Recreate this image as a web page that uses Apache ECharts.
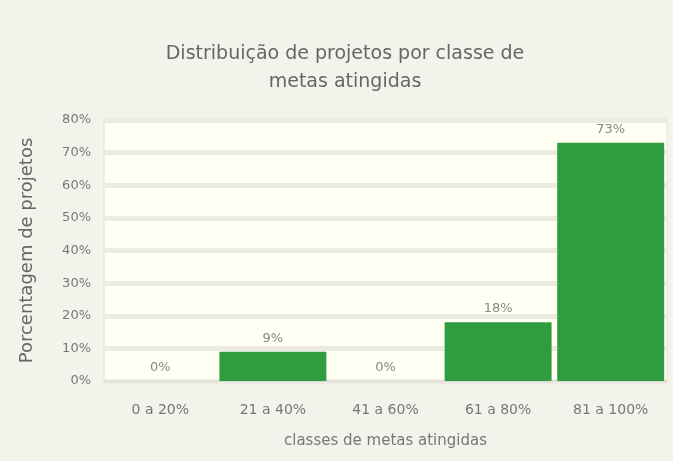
<!DOCTYPE html>
<html><head><meta charset="utf-8">
<script src="https://cdn.jsdelivr.net/npm/echarts@6/dist/echarts.min.js"></script>
<style>html,body{margin:0;padding:0;background:#f3f3ec}#c{width:673px;height:461px}</style>
</head><body><div id="c"></div>
<script>
const categories = ["0 a 20%", "21 a 40%", "41 a 60%", "61 a 80%", "81 a 100%"];
const values = [0, 9, 0, 18, 73];
const valueLabels = ["0%", "9%", "0%", "18%", "73%"];
const chart = echarts.init(document.getElementById('c'));
chart.setOption({
  backgroundColor: '#f3f3ec',
  title: {
    text: 'Distribuição de projetos por classe de\nmetas atingidas',
    left: 340, top: 35, textAlign: 'center',
    textStyle: {fontFamily: 'DejaVu Sans', fontSize: 19, fontWeight: 'normal', color: '#666', lineHeight: 28}
  },
  grid: {left: 104, right: 6, top: 120, bottom: 80, show: true, backgroundColor: '#fffff4', borderColor: '#e2e2da', borderWidth: 1},
  xAxis: {
    type: 'category', data: categories,
    name: 'classes de metas atingidas', nameLocation: 'middle', nameGap: 53,
    nameTextStyle: {fontFamily: 'DejaVu Sans', fontSize: 15, color: '#777'},
    axisLine: {lineStyle: {color: '#d8d8d0'}}, axisTick: {show: false},
    axisLabel: {fontFamily: 'DejaVu Sans', fontSize: 14, color: '#777', margin: 22}
  },
  yAxis: {
    type: 'value', min: 0, max: 80, interval: 10,
    name: 'Porcentagem de projetos', nameLocation: 'middle', nameGap: 68,
    nameTextStyle: {fontFamily: 'DejaVu Sans', fontSize: 18, color: '#666'},
    axisLabel: {formatter: '{value}%', fontFamily: 'DejaVu Sans', fontSize: 13, color: '#777', margin: 13},
    axisLine: {show: false}, axisTick: {show: false},
    splitLine: {lineStyle: {color: '#ebebe2', width: 5}}
  },
  series: [{
    type: 'bar', data: values, barCategoryGap: '5%',
    itemStyle: {color: '#2f9c3f'},
    label: {show: true, position: 'top', distance: 7, fontFamily: 'DejaVu Sans', fontSize: 13, color: '#888',
      formatter: p => valueLabels[p.dataIndex]}
  }]
});
</script></body></html>
